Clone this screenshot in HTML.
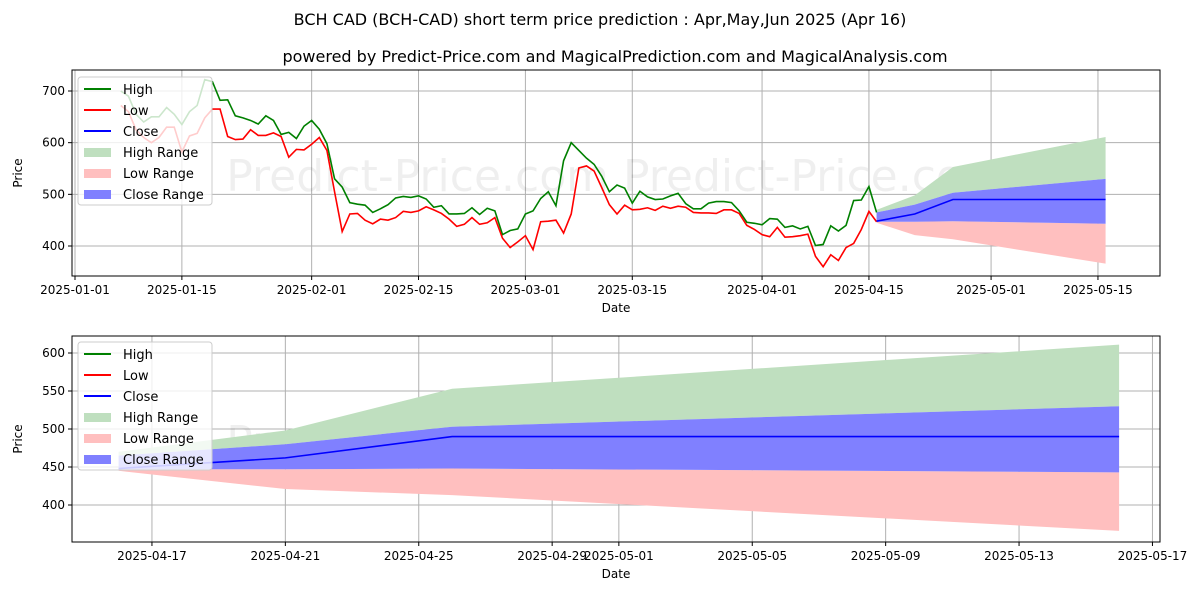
<!DOCTYPE html>
<html><head><meta charset="utf-8"><style>
body{margin:0;background:#fff;font-family:"Liberation Sans","DejaVu Sans",sans-serif}
svg text{font-family:"DejaVu Sans","Liberation Sans",sans-serif;fill:#000}
</style></head><body>
<svg id="c" width="1200" height="600" viewBox="0 0 1200 600">
<text x="600" y="25" font-size="16" text-anchor="middle">BCH CAD (BCH-CAD) short term price prediction : Apr,May,Jun 2025 (Apr 16)</text>
<text x="615" y="62" font-size="16" text-anchor="middle">powered by Predict-Price.com and MagicalPrediction.com and MagicalAnalysis.com</text>
</svg>
<script>
const highs=[700,690,655,640,650,650,668,655,635,660,672,722,718,682,683,652,648,643,636,652,643,616,620,608,632,643,626,598,530,514,484,481,479,465,472,480,493,496,494,497,491,475,478,462,462,463,474,461,473,468,422,430,433,462,468,492,505,478,565,600,585,570,558,535,505,518,512,483,506,495,490,491,497,502,482,472,472,483,486,486,484,468,446,444,441,453,452,436,439,433,438,401,403,439,429,440,488,489,515,465];
const lows=[672,660,625,610,600,610,630,630,582,613,618,648,665,665,612,606,607,625,614,614,619,612,572,587,586,597,610,585,505,428,462,463,450,443,452,450,455,467,465,468,476,470,463,452,438,442,455,442,445,455,415,397,408,420,393,447,448,450,425,462,551,555,545,513,480,462,479,470,471,474,469,477,473,477,475,465,464,464,463,470,470,463,440,432,422,418,436,417,418,420,423,380,360,383,372,397,405,432,467,447];
const histStartDay=6; // Jan 7 = day 6 from Jan 1
const fDays=[0,5,10,30]; // days after Apr 16
const fClose=[448,462,490,490];
const fHighUp=[470,498,553,611];
const fCloseUp=[465,480,503,530];
const fCloseLo=[447,447,448,443];
const fLowLo=[445,421,413,366];
const topTicksY=[400,500,600,700];
const botTicksY=[400,450,500,550,600];
const topTicksX=["2025-01-01","2025-01-15","2025-02-01","2025-02-15","2025-03-01","2025-03-15","2025-04-01","2025-04-15","2025-05-01","2025-05-15"];
const botTicksX=["2025-04-17","2025-04-21","2025-04-25","2025-04-29","2025-05-01","2025-05-05","2025-05-09","2025-05-13","2025-05-17"];

const svg=document.getElementById('c');const NS='http://www.w3.org/2000/svg';
function mk(t,a,p){const e=document.createElementNS(NS,t);for(const k in a)e.setAttribute(k,a[k]);(p||svg).appendChild(e);return e;}
const dayOf=s=>(Date.UTC(+s.slice(0,4),+s.slice(5,7)-1,+s.slice(8,10))-Date.UTC(2025,0,1))/864e5;
const APR16=dayOf("2025-04-16");

function panel(cfg){
  const g=mk('g',{});
  
  
  const {x0,x1,y0,y1,sx,sy}=cfg;
  // grid
  cfg.yt.forEach(v=>{const y=sy(v);
    const l=mk('line',{x1:x0,x2:x1,y1:y,y2:y,stroke:'#b0b0b0','stroke-width':1},g);
    
    mk('line',{x1:x0-4,x2:x0,y1:y,y2:y,stroke:'#000'},g);
    const t=mk('text',{x:x0-7,y:y+4,'font-size':12,'text-anchor':'end'},g);t.textContent=v;
    });
  cfg.xt.forEach(s=>{const x=sx(dayOf(s));
    const l=mk('line',{x1:x,x2:x,y1:y0,y2:y1,stroke:'#b0b0b0','stroke-width':1},g);
    
    mk('line',{x1:x,x2:x,y1:y1,y2:y1+4,stroke:'#000'},g);
    const t=mk('text',{x:x,y:y1+18,'font-size':12,'text-anchor':'middle'},g);t.textContent=s;
    });
  const wm=mk('text',{x:(x0+x1)/2,y:(y0+y1)/2+18,'font-size':44,'text-anchor':'middle',style:'fill:#000;opacity:0.06'},g);
  wm.textContent='Predict-Price.com     Predict-Price.com';
  
  const band=(up,lo,col,name)=>{let pts=[];fDays.forEach((d,i)=>pts.push(sx(APR16+d)+','+sy(up[i])));
    for(let i=fDays.length-1;i>=0;i--)pts.push(sx(APR16+fDays[i])+','+sy(lo[i]));
    const p=mk('polygon',{points:pts.join(' '),fill:col},g);};
  band(fHighUp,fCloseUp,'#bfdfbf','high-range');
  band(fCloseLo,fLowLo,'#ffbfbf','low-range');
  band(fCloseUp,fCloseLo,'#8080ff','close-range');
  const line=(vals,days,col,name)=>{const p=mk('polyline',{points:vals.map((v,i)=>sx(days[i])+','+sy(v)).join(' '),fill:'none',stroke:col,'stroke-width':1.6},g);
    };
  if(cfg.hist){line(highs,highs.map((_,i)=>histStartDay+i),'#008000','high-line');
    line(lows,lows.map((_,i)=>histStartDay+i),'#ff0000','low-line');}
  line(fClose,fDays.map(d=>APR16+d),'#0000ff','close-line');
  mk('rect',{x:x0,y:y0,width:x1-x0,height:y1-y0,fill:'none',stroke:'#000','stroke-width':1},g);
  const xl=mk('text',{x:(x0+x1)/2,y:y1+36,'font-size':12,'text-anchor':'middle'},g);xl.textContent='Date';
  
  const yl=mk('text',{x:x0-50,y:(y0+y1)/2,'font-size':12,'text-anchor':'middle',transform:`rotate(-90 ${x0-50} ${(y0+y1)/2})`},g);yl.textContent='Price';
  
  // legend
  const lg=mk('g',{},g);
  const lx=cfg.lx,ly=cfg.ly;
  mk('rect',{x:lx,y:ly,width:134,height:128,rx:3,fill:'#fff','fill-opacity':0.8,stroke:'#ccc'},lg);
  [['High','#008000',0],['Low','#ff0000',0],['Close','#0000ff',0],['High Range','#bfdfbf',1],['Low Range','#ffbfbf',1],['Close Range','#8080ff',1]].forEach((e,i)=>{
    const y=ly+12+i*21;
    const it=mk('g',{},lg);
    if(e[2])mk('rect',{x:lx+6,y:y-4,width:27,height:9,fill:e[1]},it);else mk('line',{x1:lx+6,x2:lx+33,y1:y,y2:y,stroke:e[1],'stroke-width':2},it);
    const t=mk('text',{x:lx+45,y:y+5,'font-size':13},it);t.textContent=e[0];});
}
const t0=75,pd=7.634;
panel({name:'history-panel',x0:72,x1:1160,y0:70,y1:276,hist:true,yt:topTicksY,xt:topTicksX,
  sx:d=>t0+d*pd,sy:v=>91+(700-v)*0.5167,lx:78,ly:77});
const b0=118.6,bd=33.35;
panel({name:'forecast-panel',x0:72,x1:1160,y0:336,y1:542,hist:false,yt:botTicksY,xt:botTicksX,
  sx:d=>b0+(d-APR16)*bd,sy:v=>353+(600-v)*0.76,lx:78,ly:342});
</script>
</body></html>
